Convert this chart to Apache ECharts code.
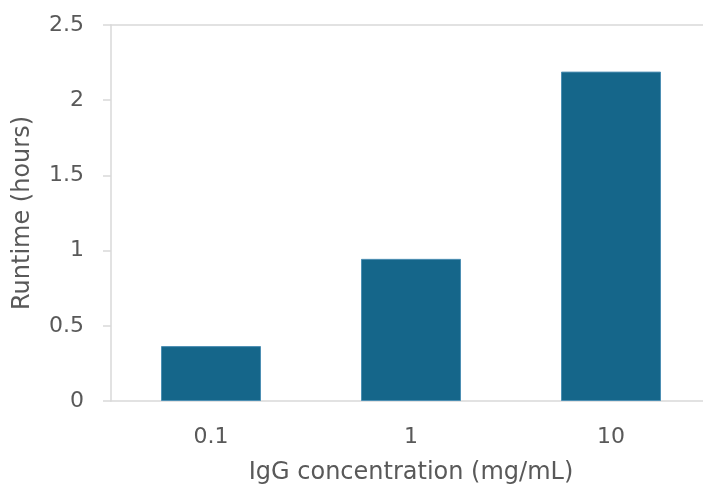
<!DOCTYPE html>
<html><head><meta charset="utf-8">
<script src="https://cdn.jsdelivr.net/npm/echarts@6/dist/echarts.min.js"></script>
<style>html,body{margin:0;padding:0;background:#fff}#c{width:703px;height:487px}</style>
</head><body><div id="c"></div>
<script>
const categories = ['0.1', '1', '10'];
const runtimeHours = [0.365, 0.945, 2.19];
const yTicks = [0, 0.5, 1, 1.5, 2, 2.5];

const chart = echarts.init(document.getElementById('c'), null, {renderer: 'canvas'});
const font = 'DejaVu Sans';
chart.setOption({
  animation: false,
  textStyle: {fontFamily: font},
  grid: {left: 111, top: 25, width: 600, height: 376, containLabel: false, outerBoundsMode: 'none'},
  xAxis: [{
    type: 'category', data: categories, position: 'bottom',
    axisLine: {lineStyle: {color: '#d9d9d9', width: 1.5}},
    axisTick: {show: false},
    axisLabel: {color: '#595959', fontSize: 22, margin: 25, fontFamily: font},
    name: 'IgG concentration (mg/mL)', nameLocation: 'middle', nameGap: 60,
    nameTextStyle: {color: '#595959', fontSize: 24, fontFamily: font, fontWeight: 500}
  }, {
    type: 'category', data: categories, position: 'top',
    axisLine: {show: true, lineStyle: {color: '#d9d9d9', width: 1.5}},
    axisTick: {show: false}, axisLabel: {show: false}
  }],
  yAxis: {
    type: 'value', min: yTicks[0], max: yTicks[yTicks.length - 1], interval: 0.5,
    axisLine: {show: true, lineStyle: {color: '#d9d9d9', width: 1.5}},
    axisTick: {show: true, length: 8, lineStyle: {color: '#d9d9d9', width: 1.5}},
    splitLine: {show: false},
    axisLabel: {color: '#595959', fontSize: 22, margin: 27, fontFamily: font},
    name: 'Runtime (hours)', nameLocation: 'middle', nameGap: 76,
    nameTextStyle: {color: '#595959', fontSize: 24, fontFamily: font, fontWeight: 500}
  },
  series: [{
    type: 'bar', data: runtimeHours, barWidth: 100, xAxisIndex: 0,
    itemStyle: {color: '#15668a', borderColor: '#4d8fb3', borderWidth: 1}
  }]
});
</script></body></html>
